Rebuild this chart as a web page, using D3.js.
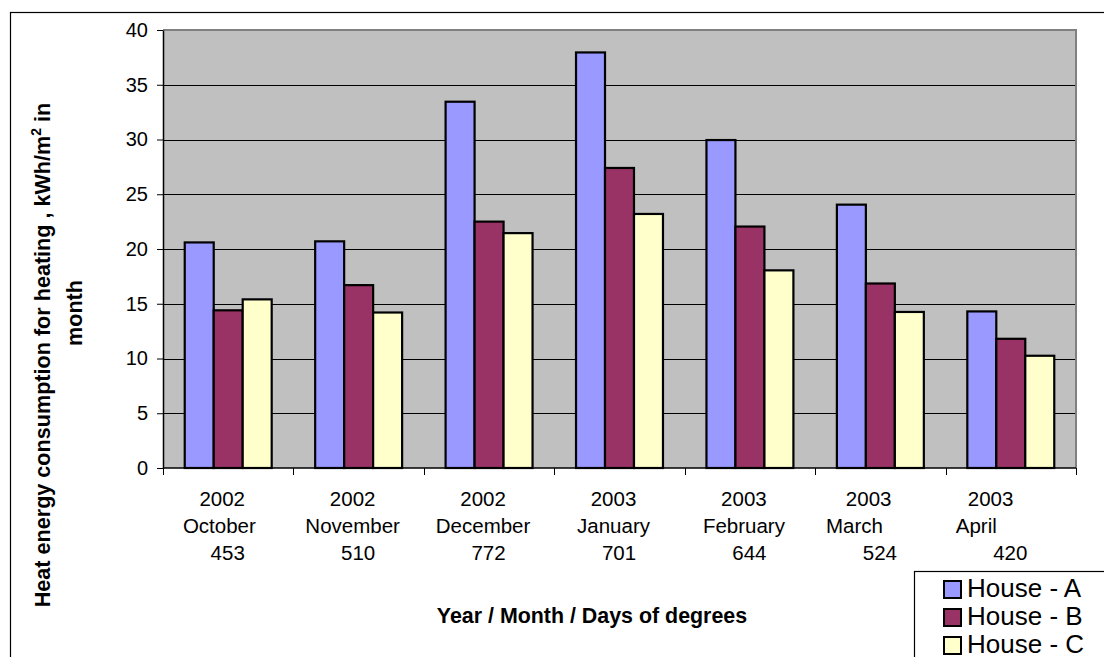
<!DOCTYPE html>
<html>
<head>
<meta charset="utf-8">
<script src="https://cdn.jsdelivr.net/npm/d3@7"></script>
<style>
  html, body { margin: 0; padding: 0; background: #fff; }
  svg { display: block; font-family: "Liberation Sans", Arial, sans-serif; }
  text { white-space: pre; }
</style>
</head>
<body>
<svg id="chart" width="1104" height="657"></svg>
<script>
// ---- data ----
const years = ["2002", "2002", "2002", "2003", "2003", "2003", "2003"];
const months = ["October ", "November", "December", "January", "February", "March       ", "April          "];
const degreeDays = ["453", "510", "772", "701", "644", "524", "420"];
const yearLabels = ["2002", "2002", "2002", "2003", "2003", "2003  ", "2003     "];
const seriesNames = ["House - A", "House - B", "House - C"];
const houseA = [20.6, 20.7, 33.45, 37.95, 29.95, 24.05, 14.3];
const houseB = [14.4, 16.7, 22.5, 27.4, 22.05, 16.85, 11.8];
const houseC = [15.4, 14.2, 21.45, 23.2, 18.05, 14.25, 10.25];
const yTicks = [0, 5, 10, 15, 20, 25, 30, 35, 40];
const yTitle1 = "Heat energy consumption for heating , kWh/m";
const yTitle2 = "month";
const xTitle = "Year / Month / Days of degrees";

// ---- layout ----
const svg = d3.select("#chart");
const plot = { left: 163, right: 1076, top: 30, bottom: 468 };
const colors = ["#9999FF", "#993366", "#FFFFCC"];
const seriesValues = [houseA, houseB, houseC];
const cats = d3.range(years.length);

// outer chart frame (extends past window edges)
svg.append("rect").attr("x", 10.5).attr("y", 12.5).attr("width", 1120).attr("height", 700)
  .attr("fill", "#fff").attr("stroke", "#000").attr("stroke-width", 1.2);

const x0 = d3.scaleBand().domain(cats).range([plot.left, plot.right]).paddingInner(0).paddingOuter(0);
const x1 = d3.scaleBand().domain(d3.range(seriesNames.length)).range([0, x0.bandwidth()])
  .paddingInner(0).paddingOuter(0.75);
const y = d3.scaleLinear().domain([0, 40]).range([plot.bottom, plot.top]);

// plot background
svg.append("rect").attr("x", plot.left).attr("y", plot.top)
  .attr("width", plot.right - plot.left).attr("height", plot.bottom - plot.top)
  .attr("fill", "#C0C0C0");

// gridlines
svg.append("g").selectAll("line").data(yTicks.filter(d => d > 0 && d < 40)).join("line")
  .attr("x1", plot.left).attr("x2", plot.right)
  .attr("y1", d => Math.round(y(d)) + 0.5).attr("y2", d => Math.round(y(d)) + 0.5)
  .attr("stroke", "#000").attr("stroke-width", 1);

// plot border top/right (gray)
svg.append("path")
  .attr("d", `M${plot.left},${plot.top} H${plot.right} V${plot.bottom}`)
  .attr("fill", "none").attr("stroke", "#808080").attr("stroke-width", 2);

// bars
const groups = svg.append("g").selectAll("g").data(seriesValues).join("g")
  .attr("fill", (d, i) => colors[i]);
groups.selectAll("rect").data((vals, si) => vals.map((v, ci) => ({ v, ci, si }))).join("rect")
  .attr("x", d => x0(d.ci) + x1(d.si))
  .attr("y", d => y(d.v))
  .attr("width", x1.bandwidth())
  .attr("height", d => y(0) - y(d.v))
  .attr("stroke", "#000").attr("stroke-width", 2.2);

// y axis
const yAxis = d3.axisLeft(y).tickValues(yTicks).tickSize(6).tickPadding(9).tickSizeOuter(0);
const yg = svg.append("g").attr("transform", `translate(${plot.left},0)`).call(yAxis);
yg.select(".domain").attr("stroke", "#000").attr("stroke-width", 1.5);
yg.selectAll(".tick line").attr("stroke", "#000");
yg.selectAll(".tick text").attr("font-size", 20).attr("font-family", "Liberation Sans, Arial, sans-serif").attr("fill", "#000");

// x axis line + tick marks at band boundaries
const xg = svg.append("g");
xg.append("line").attr("x1", plot.left).attr("x2", plot.right)
  .attr("y1", plot.bottom).attr("y2", plot.bottom).attr("stroke", "#000").attr("stroke-width", 1.5);
xg.selectAll("line.tk").data(d3.range(cats.length + 1)).join("line").attr("class", "tk")
  .attr("x1", i => Math.round(i < cats.length ? x0(i) : plot.right) + 0.5)
  .attr("x2", i => Math.round(i < cats.length ? x0(i) : plot.right) + 0.5)
  .attr("y1", plot.bottom).attr("y2", plot.bottom + 7).attr("stroke", "#000");

// category labels (three lines)
const catLab = svg.append("g").attr("font-size", 20.5).attr("fill", "#000").attr("text-anchor", "middle");
cats.forEach(i => {
  const cx = x0(i) + x0.bandwidth() / 2;
  catLab.append("text").attr("x", cx - 6).attr("y", 506).text(yearLabels[i]);
  catLab.append("text").attr("x", cx - 6).attr("y", 533).text(months[i]);
  catLab.append("text").attr("x", cx - 0.5).attr("y", 560).text(degreeDays[i]);
});

// x axis title
svg.append("text").attr("x", 592).attr("y", 623).attr("text-anchor", "middle")
  .attr("font-size", 21.4).attr("font-weight", "bold").text(xTitle);

// y axis title
const yt = svg.append("text").attr("transform", "translate(50,355) rotate(-90)")
  .attr("text-anchor", "middle").attr("font-size", 21.6).attr("font-weight", "bold");
yt.append("tspan").text(yTitle1);
yt.append("tspan").attr("dy", -9).attr("font-size", 14).text("2");
yt.append("tspan").attr("dy", 9).text(" in");
svg.append("text").attr("transform", "translate(82,313) rotate(-90)")
  .attr("text-anchor", "middle").attr("font-size", 21.6).attr("font-weight", "bold").text(yTitle2);

// legend
const lg = svg.append("g");
lg.append("rect").attr("x", 914.5).attr("y", 571.5).attr("width", 300).attr("height", 200)
  .attr("fill", "#fff").attr("stroke", "#000").attr("stroke-width", 1.2);
seriesNames.forEach((name, i) => {
  const cy = 589 + i * 28;
  lg.append("rect").attr("x", 944).attr("y", cy - 8).attr("width", 17).attr("height", 17)
    .attr("fill", colors[i]).attr("stroke", "#000").attr("stroke-width", 2);
  lg.append("text").attr("x", 967).attr("y", cy + 8).attr("font-size", 26).attr("fill", "#000").text(name);
});
</script>
</body>
</html>
